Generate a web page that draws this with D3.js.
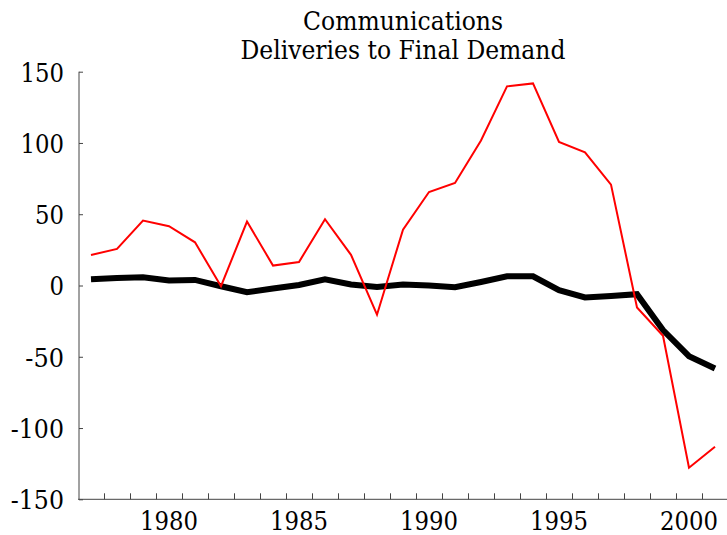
<!DOCTYPE html>
<html>
<head>
<meta charset="utf-8">
<script src="https://cdn.jsdelivr.net/npm/d3@7"></script>
<style>
  html, body { margin: 0; padding: 0; background: #fff; }
  svg { display: block; }
</style>
</head>
<body>
<svg id="chart" width="727" height="535"></svg>
<script>
const years = [1977,1978,1979,1980,1981,1982,1983,1984,1985,1986,1987,1988,1989,1990,1991,1992,1993,1994,1995,1996,1997,1998,1999,2000,2001];
const redSeries = [21.4,25.7,45.5,41.6,30.3,-0.5,44.9,14.0,16.5,46.5,21.5,-20.5,39.2,65.6,71.9,101.8,139.7,141.8,100.7,93.4,70.8,-15.4,-35.3,-127.8,-113.1];
const blackSeries = [4.4,5.3,5.8,3.5,3.9,-0.5,-4.7,-2.1,0.4,4.4,0.7,-1.0,0.7,0.0,-1.2,2.5,6.5,6.5,-3.3,-8.4,-7.3,-6.1,-31.3,-49.6,-58.2];
const yTicks = [150,100,50,0,-50,-100,-150];
const xLabelYears = [1980,1985,1990,1995,2000];
const titleLines = ["Communications","Deliveries to Final Demand"];

const FONT = "'DejaVu Serif', serif";
const FS = 26.5;
const svg = d3.select("#chart");
const x = d3.scaleLinear().domain([1976.5, 2001.5]).range([78, 728]);
const y = d3.scaleLinear().domain([-150, 150]).range([499.3, 71.7]);

// approximate Times-like advance widths (em) to compress the serif face
function timesWidth(s, size) {
  let w = 0;
  for (const c of String(s)) w += (c === "-") ? 0.333 : 0.5;
  return w * size;
}

function styleText(sel) {
  return sel.attr("font-family", FONT).style("font-family", FONT)
    .attr("font-size", FS).attr("fill", "#000");
}

// title
const titleWidths = [200, 325];
styleText(svg.append("g").selectAll("text").data(titleLines).join("text"))
  .attr("x", 403).attr("y", (d, i) => 30 + i * 29.3)
  .attr("text-anchor", "middle")
  .attr("textLength", (d, i) => titleWidths[i])
  .attr("lengthAdjust", "spacingAndGlyphs")
  .text(d => d);

// y axis
const yAxis = svg.append("g").attr("transform", "translate(79,0)")
  .call(d3.axisLeft(y).tickValues(yTicks).tickSize(-4).tickFormat(""));
yAxis.select(".domain").attr("d", `M0,${y(150)}V${y(-150)}`);
yAxis.selectAll("path, line").attr("stroke", "#444").attr("stroke-width", 1);
styleText(svg.append("g").selectAll("text").data(yTicks).join("text"))
  .attr("x", 64).attr("y", d => y(d)).attr("dy", "0.37em")
  .attr("text-anchor", "end")
  .attr("textLength", d => timesWidth(d, 29))
  .attr("lengthAdjust", "spacingAndGlyphs")
  .text(d => String(d));

// x axis
const boundaries = d3.range(1977.5, 2001, 1);
const xAxis = svg.append("g").attr("transform", `translate(0,${y(-150)})`)
  .call(d3.axisBottom(x).tickValues(boundaries).tickSize(-6).tickFormat(""));
xAxis.select(".domain").attr("d", `M78,0H727`);
xAxis.selectAll("path, line").attr("stroke", "#444").attr("stroke-width", 1);
styleText(svg.append("g").selectAll("text").data(xLabelYears).join("text"))
  .attr("x", d => x(d)).attr("y", 529.5)
  .attr("text-anchor", "middle")
  .attr("textLength", d => timesWidth(d, 29))
  .attr("lengthAdjust", "spacingAndGlyphs")
  .text(d => d);

// lines
const line = d3.line().x((d, i) => x(years[i])).y(d => y(d));
svg.append("path").datum(blackSeries).attr("d", line)
  .attr("fill", "none").attr("stroke", "#000").attr("stroke-width", 6)
  .attr("stroke-linejoin", "miter");
svg.append("path").datum(redSeries).attr("d", line)
  .attr("fill", "none").attr("stroke", "#ff0000").attr("stroke-width", 2)
  .attr("stroke-linejoin", "miter");
</script>
</body>
</html>
